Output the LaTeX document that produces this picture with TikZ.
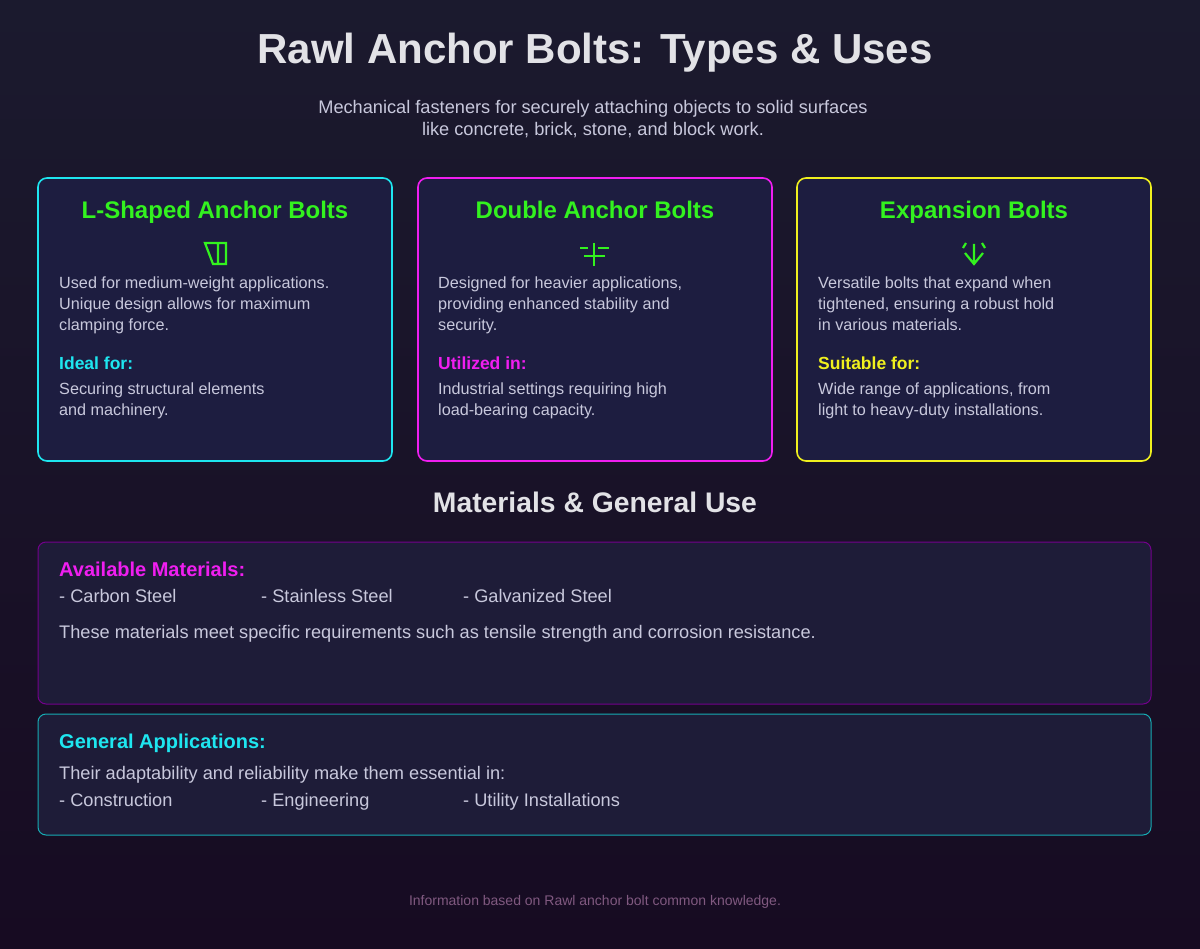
\documentclass[tikz,border=0pt]{standalone}
\usepackage{fontspec}
\setmainfont{Liberation Sans}
\begin{document}
\begin{tikzpicture}[x=1pt,y=-1pt,
  card/.style={draw=#1,line width=1.6pt,rounded corners=9pt,fill=cardbg},
  ctitle/.style={font=\bfseries\fontsize{24}{26}\selectfont,text=neongreen,anchor=base},
  body/.style={font=\fontsize{16.2}{21}\selectfont,text=bodytxt,anchor=north west,align=left,inner sep=0pt},
  big/.style={font=\fontsize{18.2}{21}\selectfont},
  sub/.style={font=\bfseries\fontsize{17.5}{20}\selectfont,text=#1,anchor=north west,inner sep=0pt},
  icon/.style={draw=neongreen,line width=2.2pt}]
\definecolor{bgtop}{HTML}{1B1A2E}
\definecolor{bgbot}{HTML}{170B22}
\definecolor{cardbg}{HTML}{1D1D40}
\definecolor{neongreen}{HTML}{33F21F}
\definecolor{bodytxt}{HTML}{C8C8DC}
\definecolor{ncyan}{HTML}{1EE6F0}
\definecolor{nmag}{HTML}{F01EF0}
\definecolor{nyel}{HTML}{F0F01E}
\definecolor{boxbg}{HTML}{1E1C38}
\definecolor{headtxt}{HTML}{E2E2E6}
\useasboundingbox (0,0) rectangle (1200,949);
\shade[top color=bgtop,bottom color=bgbot] (0,0) rectangle (1200,949);
\node[font=\bfseries\fontsize{42}{46}\selectfont,text=headtxt] (title) at (595,53) {Rawl Anchor Bolts: Types \& Uses};
\node[font=\fontsize{18.2}{22}\selectfont,text=bodytxt,align=center] (subt) at (593,119) {Mechanical fasteners for securely attaching objects to solid surfaces\\like concrete, brick, stone, and block work.};
% cards
\draw[card=ncyan] (38,178) rectangle (392,461);
\draw[card=nmag] (418,178) rectangle (772,461);
\draw[card=nyel] (797,178) rectangle (1151,461);
\node[ctitle] (t1) at (215,219) {L-Shaped Anchor Bolts};
\node[ctitle] (t2) at (595,219) {Double Anchor Bolts};
\node[ctitle] (t3) at (974,219) {Expansion Bolts};
% icons
\draw[icon] (205,243) -- (226,243) -- (226,264) -- (213,264) -- cycle (218,243) -- (218,264);
\draw[icon] (580,248) -- (588,248) (598,248) -- (609,248) (584,256) -- (605,256) (594,243) -- (594,266);
\draw[icon] (974,244) -- (974,264) (965,253) -- (974,264) -- (983,253) (966,243) -- (963,248) (982,243) -- (985,248);
% card texts
\node[body] (b1) at (59,277) {Used for medium-weight applications.\\Unique design allows for maximum\\clamping force.};
\node[sub=ncyan] (s1) at (59,357) {Ideal for:};
\node[body] (c1) at (59,383) {Securing structural elements\\and machinery.};
\node[body] (b2) at (438,277) {Designed for heavier applications,\\providing enhanced stability and\\security.};
\node[sub=nmag] (s2) at (438,357) {Utilized in:};
\node[body] (c2) at (438,383) {Industrial settings requiring high\\load-bearing capacity.};
\node[body] (b3) at (818,277) {Versatile bolts that expand when\\tightened, ensuring a robust hold\\in various materials.};
\node[sub=nyel] (s3) at (818,357) {Suitable for:};
\node[body] (c3) at (818,383) {Wide range of applications, from\\light to heavy-duty installations.};
% materials
\node[font=\bfseries\fontsize{28.3}{30}\selectfont,text=headtxt] (mt) at (595,502) {Materials \& General Use};
\draw[draw=violet!90!blue,line width=1pt,rounded corners=8pt,fill=boxbg] (38,542) rectangle (1151,704);
\draw[draw=ncyan!75!black,line width=1pt,rounded corners=8pt,fill=boxbg] (38,714) rectangle (1151,835);
\node[sub=nmag,font=\bfseries\fontsize{20}{22}\selectfont] (am) at (59,562) {Available Materials:};
\node[body,big] (m1) at (59,589) {- Carbon Steel};
\node[body,big] (m2) at (261,589) {- Stainless Steel};
\node[body,big] (m3) at (463,589) {- Galvanized Steel};
\node[body,big] (m4) at (59,625) {These materials meet specific requirements such as tensile strength and corrosion resistance.};
\node[sub=ncyan,font=\bfseries\fontsize{20}{22}\selectfont] (ga) at (59,734) {General Applications:};
\node[body,big] (g0) at (59,766) {Their adaptability and reliability make them essential in:};
\node[body,big] (g1) at (59,793) {- Construction};
\node[body,big] (g2) at (261,793) {- Engineering};
\node[body,big] (g3) at (463,793) {- Utility Installations};
\node[font=\fontsize{14}{16}\selectfont,text=gray!70!violet] (ft) at (595,902) {Information based on Rawl anchor bolt common knowledge.};
\end{tikzpicture}
\end{document}
